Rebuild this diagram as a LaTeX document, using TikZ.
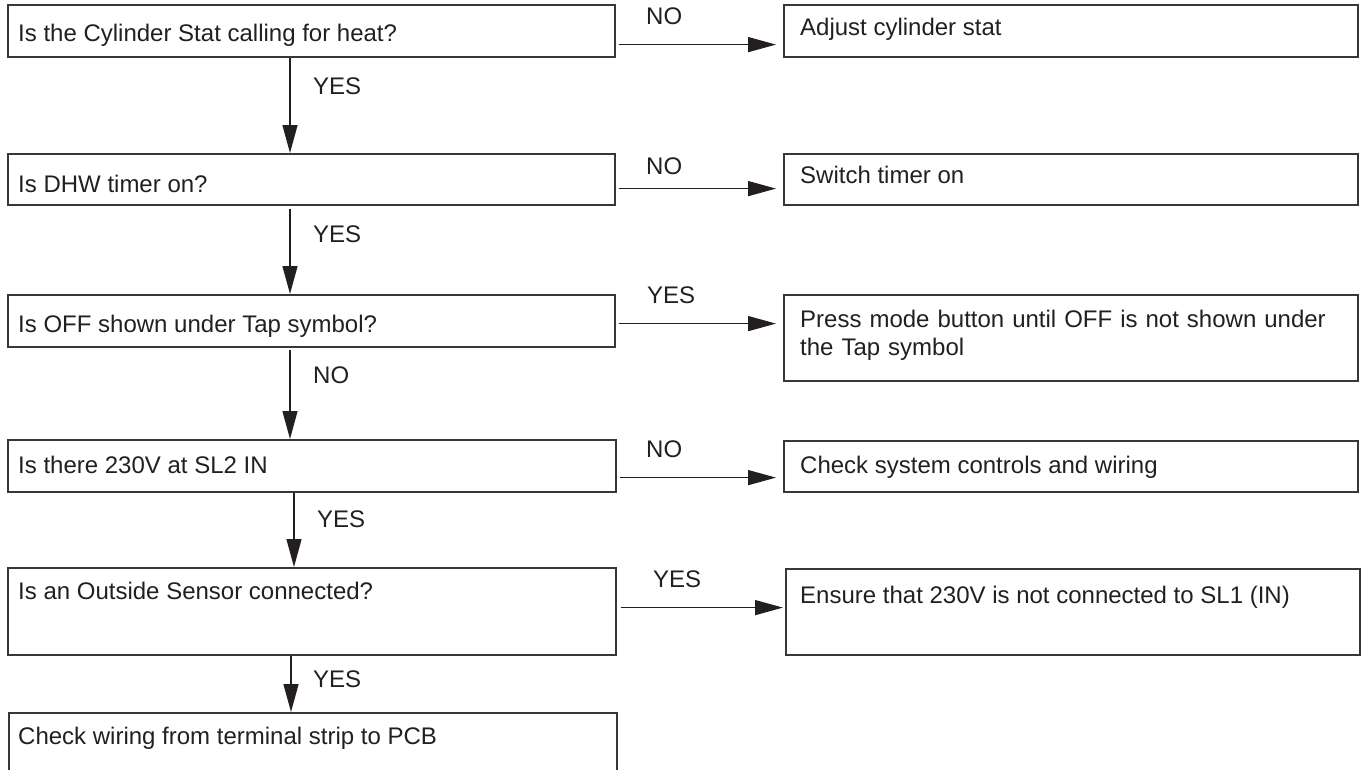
\documentclass[tikz,border=0pt]{standalone}
\usepackage{fontspec}
\setmainfont{Liberation Sans}
\usetikzlibrary{arrows.meta,calc}
\definecolor{ink}{RGB}{35,31,32}
\definecolor{edge}{RGB}{55,55,55}
\begin{document}
\begin{tikzpicture}[x=1pt,y=-1pt,
  box/.style={draw=edge, line width=1.6pt, rectangle, anchor=north west, inner sep=0pt},
  txt/.style={anchor=base west, inner sep=0pt, text=ink, font=\fontsize{24}{28}\selectfont},
  lbl/.style={txt},
  arr/.style={draw=ink, line width=1.4pt, -{Triangle[length=28pt,width=15pt]}},
]
\useasboundingbox (0,0) rectangle (1365,769);
\clip (0,0) rectangle (1365,769);
% left column boxes
\node[box, minimum width=607pt, minimum height=52pt] (b1) at (7,4) {};
\node[box, minimum width=607pt, minimum height=51pt] (b2) at (7,153) {};
\node[box, minimum width=607pt, minimum height=52pt] (b3) at (7,294) {};
\node[box, minimum width=608pt, minimum height=52pt] (b4) at (7,439) {};
\node[box, minimum width=608pt, minimum height=87pt] (b5) at (7,567) {};
\node[box, minimum width=608pt, minimum height=90pt] (b6) at (8,712) {};
% right column boxes
\node[box, minimum width=574pt, minimum height=52pt] (r1) at (783,4) {};
\node[box, minimum width=574pt, minimum height=51pt] (r2) at (783,153) {};
\node[box, minimum width=574pt, minimum height=86pt] (r3) at (783,294) {};
\node[box, minimum width=574pt, minimum height=51pt] (r4) at (783,440) {};
\node[box, minimum width=574pt, minimum height=86pt] (r5) at (785,568) {};
% texts left
\node[txt] (t1) at (18,41) {Is the Cylinder Stat calling for heat?};
\node[txt] (t2) at (18,192) {Is DHW timer on?};
\node[txt] (t3) at (18,332) {Is OFF shown under Tap symbol?};
\node[txt] (t4) at (18,473) {Is there 230V at SL2 IN};
\node[txt] (t5) at (18,599) {Is an Outside Sensor connected?};
\node[txt] (t6) at (18,744) {Check wiring from terminal strip to PCB};
% texts right
\node[txt] (u1) at (800,35) {Adjust cylinder stat};
\node[txt] (u2) at (800,183) {Switch timer on};
\node[txt, text width=540pt, align=left] (u3) at (800,327) {Press mode button until OFF is not shown under\\the Tap symbol};
\node[txt] (u4) at (800,473) {Check system controls and wiring};
\node[txt] (u5) at (800,603) {Ensure that 230V is not connected to SL1 (IN)};
% horizontal arrows
\draw[arr] ($(b1.south east)+(3,-13)$) -- ($(r1.south west)+(-7,-13)$);
\draw[arr] ($(b2.south east)+(3,-17)$) -- ($(r2.south west)+(-7,-17)$);
\draw[arr] ($(b3.south east)+(3,-24)$) -- ($(r3.south west)+(-7,-58)$);
\draw[arr] ($(b4.south east)+(3,-15)$) -- ($(r4.south west)+(-7,-15)$);
\draw[arr] ($(b5.south east)+(4,-48)$) -- ($(r5.south west)+(-2,-48)$);
% vertical arrows
\draw[arr] ($(b1.south west)+(283,0)$) -- ($(b2.north west)+(283,0)$);
\draw[arr] ($(b2.south west)+(283,3)$) -- ($(b3.north west)+(283,0)$);
\draw[arr] ($(b3.south west)+(283,2)$) -- ($(b4.north west)+(283,0)$);
\draw[arr] ($(b4.south west)+(287,0)$) -- ($(b5.north west)+(287,0)$);
\draw[arr] ($(b5.south west)+(284,0)$) -- ($(b6.north west)+(283,0)$);
% labels on horizontal arrows
\node[lbl] (h1) at (646,24) {NO};
\node[lbl] (h2) at (646,174) {NO};
\node[lbl] (h3) at (647,303) {YES};
\node[lbl] (h4) at (646,457) {NO};
\node[lbl] (h5) at (653,587) {YES};
% labels on vertical arrows
\node[lbl] (v1) at (313,94) {YES};
\node[lbl] (v2) at (313,242) {YES};
\node[lbl] (v3) at (313,383) {NO};
\node[lbl] (v4) at (317,527) {YES};
\node[lbl] (v5) at (313,687) {YES};
\end{tikzpicture}
\end{document}
